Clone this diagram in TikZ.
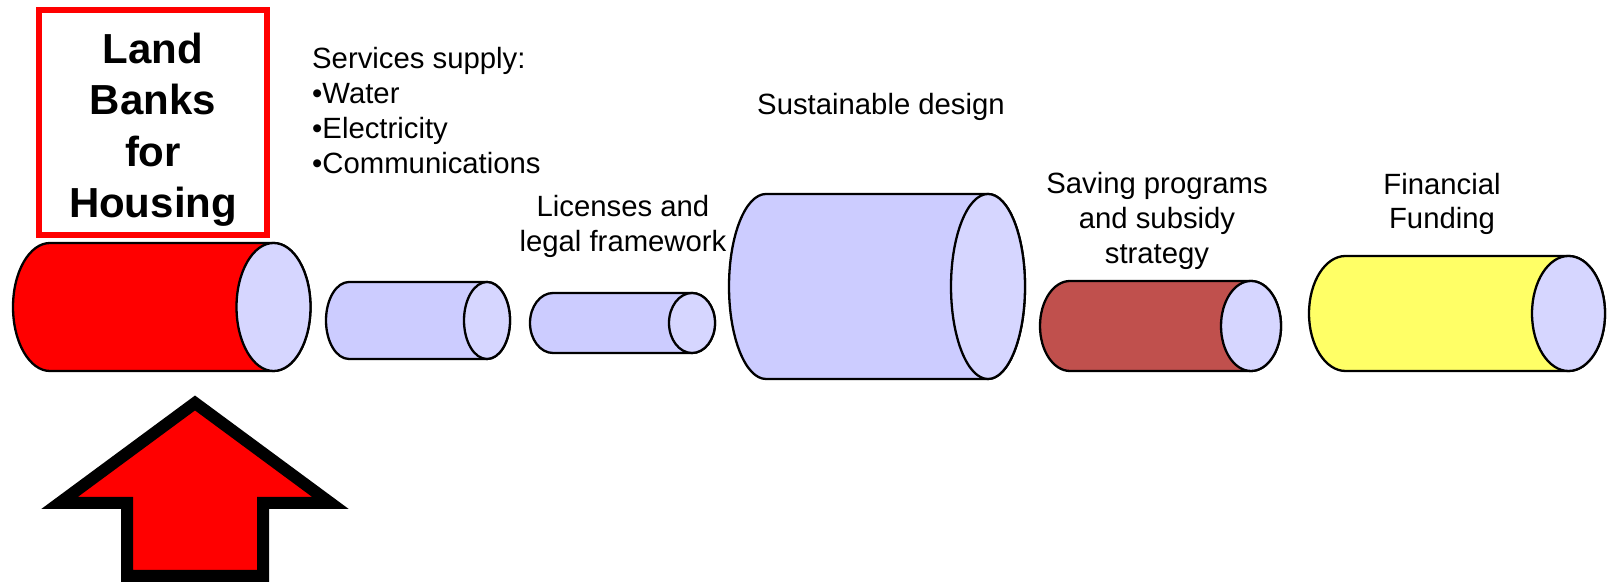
\documentclass[tikz,border=0pt]{standalone}
\usepackage{fontspec}
\setmainfont{Liberation Sans}
\definecolor{lav}{HTML}{CCCCFF}
\definecolor{capc}{HTML}{D6D6FF}
\definecolor{brownr}{HTML}{C0504D}
\definecolor{yel}{HTML}{FFFF66}
\definecolor{redc}{HTML}{FF0000}
% #1 left centre x, #2 right centre x, #3 centre y, #4 rx, #5 ry, #6 body colour
\newcommand\cylshape[6]{%
  \filldraw[cylline,fill=#6] (#1,#3+#5) -- (#2,#3+#5)
     arc[start angle=90,end angle=-90,x radius=#4pt,y radius=#5pt]
     -- (#1,#3-#5)
     arc[start angle=270,end angle=90,x radius=#4pt,y radius=#5pt] -- cycle;
  \filldraw[cylline,fill=capc] (#2,#3) ellipse[x radius=#4pt,y radius=#5pt];
}
\begin{document}
\begin{tikzpicture}[x=1pt,y=1pt,
  cylline/.style={draw=black,line width=2.3pt,line join=round},
  lbl/.style={inner sep=0pt,anchor=base,font=\fontsize{29.3}{35}\selectfont},
  bigl/.style={inner sep=0pt,anchor=base,font=\fontsize{42}{51}\selectfont\bfseries}]
\useasboundingbox (0,0) rectangle (1614,585);
\fill[white] (0,0) rectangle (1614,585);
% red title box
\draw[redc,line width=6pt,fill=white] (39,350) rectangle (267,575);
\node[bigl] (t1) at (153,521) {Land};
\node[bigl] (t2) at (153,470) {Banks};
\node[bigl] (t3) at (153,418) {for};
\node[bigl] (t4) at (153,367) {Housing};
% cylinders
\cylshape{50}{273.5}{278}{37}{64}{redc}
\cylshape{349}{487}{264.5}{23}{38.5}{lav}
\cylshape{553}{692}{262}{23}{30}{lav}
\cylshape{766}{988}{298.5}{37}{92.5}{lav}
\cylshape{1070}{1251}{259}{30}{45}{brownr}
\cylshape{1345.5}{1568.5}{271.5}{36.5}{57.5}{yel}
% texts
\node[lbl,anchor=base west] (s1) at (312,516) {Services supply:};
\node[lbl,anchor=base west] (s2) at (312,481) {•Water};
\node[lbl,anchor=base west] (s3) at (312,446) {•Electricity};
\node[lbl,anchor=base west] (s4) at (312,411) {•Communications};
\node[lbl] (l1) at (623,368) {Licenses and};
\node[lbl] (l2) at (623,333) {legal framework};
\node[lbl] (sd) at (881,470) {Sustainable design};
\node[lbl] (p1) at (1157,391) {Saving programs};
\node[lbl] (p2) at (1157,356) {and subsidy};
\node[lbl] (p3) at (1157,321) {strategy};
\node[lbl] (f1) at (1442,390) {Financial};
\node[lbl] (f2) at (1442,356) {Funding};
% up arrow
\filldraw[fill=redc,draw=black,line width=12pt,line join=miter]
  (195,182) -- (330.5,82) -- (263,82) -- (263,9) -- (127,9) -- (127,82) -- (59.5,82) -- cycle;
\end{tikzpicture}
\end{document}
